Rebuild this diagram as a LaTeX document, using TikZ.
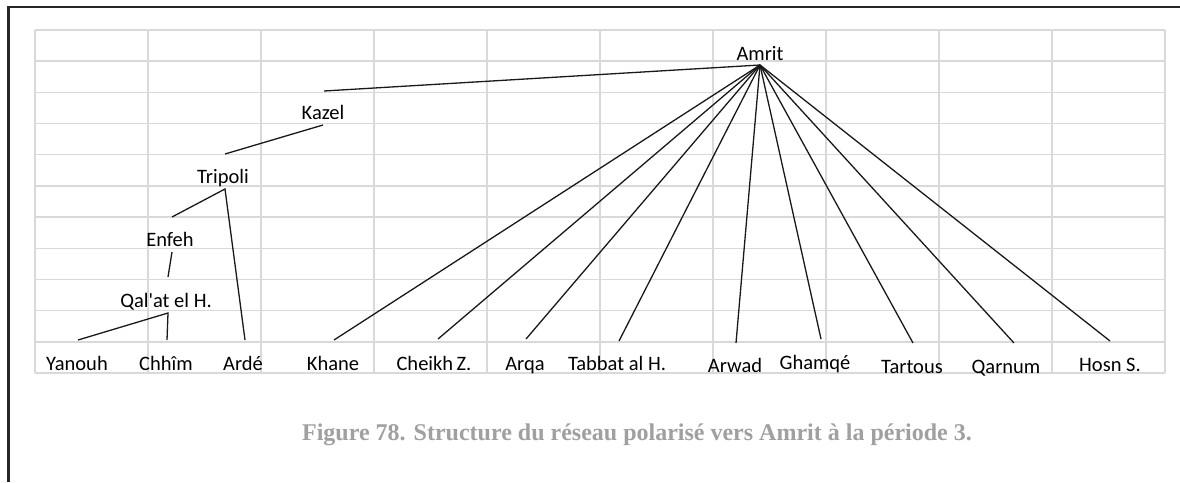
\documentclass[tikz,border=0pt]{standalone}
\usepackage{fontspec}
\setmainfont{Carlito}
\newfontfamily\capfont{Liberation Serif}
\usetikzlibrary{calc}
\definecolor{capgray}{RGB}{160,160,160}
\definecolor{gridgray}{RGB}{217,217,217}
\definecolor{framegray}{RGB}{38,38,38}
\begin{document}
\begin{tikzpicture}[x=1pt,y=-1pt,
  lbl/.style={font=\fontsize{20.5}{24}\selectfont, inner sep=0pt, anchor=base, text=black},
  link/.style={draw=black!90, line width=1.3pt},
  gridln/.style={draw=gridgray, line width=1.5pt},
  framel/.style={draw=framegray, line width=2.4pt}]
\useasboundingbox (0,0) rectangle (1180,482);
\fill[white] (0,0) rectangle (1180,482);
% grid
\foreach \i in {0,...,10} \draw[gridln] ({35+113*\i},30) -- ({35+113*\i},373);
\foreach \j in {0,...,11} \draw[gridln] (35,{30+343/11*\j}) -- (1165,{30+343/11*\j});
% frame
\draw[framel] (8.5,482) -- (8.5,6.7) -- (1180,6.7);
% labels
\node[lbl] (amrit) at (760,60) {Amrit};
\node[lbl] (kazel) at (323,119) {Kazel};
\node[lbl] (tripoli) at (223,183) {Tripoli};
\node[lbl] (enfeh) at (170,246) {Enfeh};
\node[lbl] (qalat) at (166,307) {Qal\textquotesingle at el H.};
\node[lbl] (yanouh) at (77,370) {Yanouh};
\node[lbl] (chhim) at (166,370) {Chhîm};
\node[lbl] (arde) at (243,370) {Ardé};
\node[lbl] (khane) at (333,370) {Khane};
\node[lbl] (cheikh) at (434,370) {Cheikh\,Z.};
\node[lbl] (arqa) at (525,370) {Arqa};
\node[lbl] (tabbat) at (617,370) {Tabbat al H.};
\node[lbl] (arwad) at (735,372) {Arwad};
\node[lbl] (ghamqe) at (815,369) {Ghamqé};
\node[lbl] (tartous) at (912,373) {Tartous};
\node[lbl] (qarnum) at (1006,373) {Qarnum};
\node[lbl] (hosn) at (1110,371) {Hosn S.};
% connectors
\coordinate (hub) at ($(amrit.base)+(0,5)$);
\draw[link] (hub) -- ($(kazel.base)+(1,-28)$);
\draw[link] ($(kazel.base)+(0,6)$) -- ($(tripoli.base)+(2,-29)$);
\draw[link] ($(enfeh.base)+(2,-29)$) -- ($(tripoli.base)+(2,6)$) -- ($(arde.base)+(2,-30)$);
\draw[link] ($(enfeh.base)+(2,6)$) -- ($(qalat.base)+(2,-30)$);
\draw[link] ($(yanouh.base)+(1,-30)$) -- ($(qalat.base)+(2,6)$) -- ($(chhim.base)+(1,-30)$);
\draw[link] (hub) -- ($(khane.base)+(1,-30)$);
\draw[link] (hub) -- ($(cheikh.base)+(4,-31)$);
\draw[link] (hub) -- ($(arqa.base)+(1,-31)$);
\draw[link] (hub) -- ($(tabbat.base)+(2,-29)$);
\draw[link] (hub) -- ($(arwad.base)+(1,-29)$);
\draw[link] (hub) -- ($(ghamqe.base)+(6,-30)$);
\draw[link] (hub) -- ($(tartous.base)+(1,-30)$);
\draw[link] (hub) -- ($(qarnum.base)+(8,-30)$);
\draw[link] (hub) -- ($(hosn.base)+(0,-30)$);
% caption
\node[font=\capfont\bfseries\fontsize{24}{28}\selectfont, text=capgray, inner sep=0pt, anchor=base] (cap) at (637,440) {Figure 78. Structure du réseau polarisé vers Amrit à la période 3.};
\end{tikzpicture}
\end{document}
